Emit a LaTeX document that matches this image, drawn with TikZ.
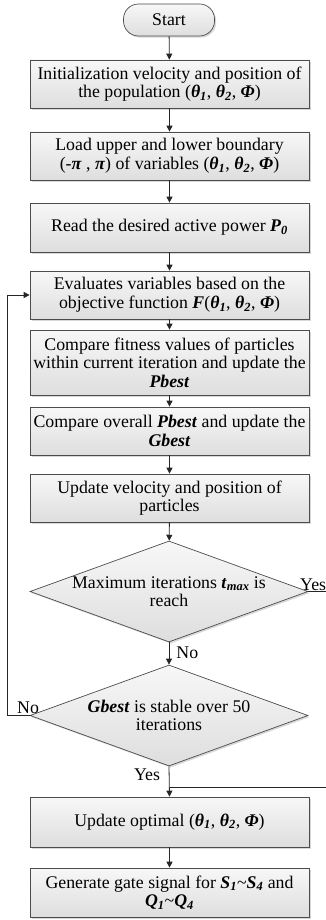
\documentclass[tikz,border=0pt]{standalone}
\usepackage{fontspec}
\setmainfont{Liberation Serif}
\usetikzlibrary{shapes.geometric,shadows,arrows.meta}

% bold italic symbols used in the labels
\newcommand{\bi}[1]{\textbf{\textit{#1}}}
\newcommand{\bsub}[2]{\bi{#1}\textsubscript{\bi{#2}}}
\newcommand{\vars}{(\bsub{θ}{1}, \bsub{θ}{2}, \bi{Φ})}

\begin{document}
\begin{tikzpicture}[x=1pt,y=-1pt,
  font=\fontsize{17.8}{18.6}\selectfont,
  edge/.style={draw=black!85, line width=0.8pt},
  flow/.style={edge, -{Triangle[length=6pt,width=6pt]}},
  shade/.style={top color=gray!6, bottom color=gray!26,
    draw=black!70, line width=0.7pt,
    drop shadow={shadow xshift=1.6pt, shadow yshift=-1.6pt, fill=black!30, opacity=0.5}},
  procbox/.style={shade, rectangle, minimum width=279pt, inner sep=1pt, align=center},
  termbox/.style={shade, rectangle, rounded corners=15pt, minimum width=91pt, minimum height=32pt, inner sep=1pt},
  decbox/.style={shade, diamond, aspect=2.75, minimum width=278pt, minimum height=101pt, inner sep=0pt, align=center},
  lbl/.style={inner sep=1pt}
]
\useasboundingbox (0,0) rectangle (326,920);

\node[termbox] (start) at (169,20) {Start};
\node[procbox, minimum height=48pt] (init) at (169.5,84) {Initialization velocity and position of\\the population \vars};
\node[procbox, minimum height=48pt] (bound) at (169.5,156) {Load upper and lower boundary\\(-\bi{π} , \bi{π}) of variables \vars};
\node[procbox, minimum height=49pt] (read) at (169.5,227.5) {Read the desired active power \bsub{P}{0}};
\node[procbox, minimum height=48pt] (eval) at (169.5,295) {Evaluates variables based on the\\objective function \bi{F}\vars};
\node[procbox, minimum height=65pt] (pbest) at (169.5,362.5) {Compare fitness values of particles\\within current iteration and update the\\\bi{Pbest}};
\node[procbox, minimum height=48pt] (gbest) at (169.5,431) {Compare overall \bi{Pbest} and update the\\\bi{Gbest}};
\node[procbox, minimum height=48pt] (upd) at (169.5,498) {Update velocity and position of\\particles};
\node[decbox] (tmax) at (169,591.5) {Maximum iterations \bsub{t}{max} is\\reach};
\node[decbox] (stable) at (169,715.5) {\bi{Gbest} is stable over 50\\iterations};
\node[procbox, minimum height=50pt] (opt) at (169.5,822) {Update optimal \vars};
\node[procbox, minimum height=49pt] (gate) at (169.5,892.5) {Generate gate signal for \bsub{S}{1}\textasciitilde\bsub{S}{4} and\\\bsub{Q}{1}\textasciitilde\bsub{Q}{4}};

% side routes
\coordinate (loopx) at (7,0);
\coordinate (rightx) at (330,0);
\coordinate (merge) at (170,787);

\draw[flow] (start) -- (init);
\draw[flow] (init) -- (bound);
\draw[flow] (bound) -- (read);
\draw[flow] (read) -- (eval);
\draw[flow] (eval) -- (pbest);
\draw[flow] (pbest) -- (gbest);
\draw[flow] (gbest) -- (upd);
\draw[flow] (upd) -- (tmax);
\draw[flow] (tmax) -- node[lbl, right=6pt, pos=0.45] {No} (stable);
\draw[flow] (stable.west) -- (stable.west -| loopx) -- (eval.west -| loopx) -- (eval.west);
\draw[flow] (stable.south) -- (opt.north);
\draw[flow] (opt) -- (gate);
\draw[edge] (tmax.east) -- (tmax.east -| rightx) -- (merge -| rightx) -- (merge);

\node[lbl, anchor=south west] (yes1) at (299,592) {Yes};
\node[lbl, anchor=south west] (no2) at (16,715) {No};
\node[lbl] (yes2) at (147,775) {Yes};
\end{tikzpicture}
\end{document}
